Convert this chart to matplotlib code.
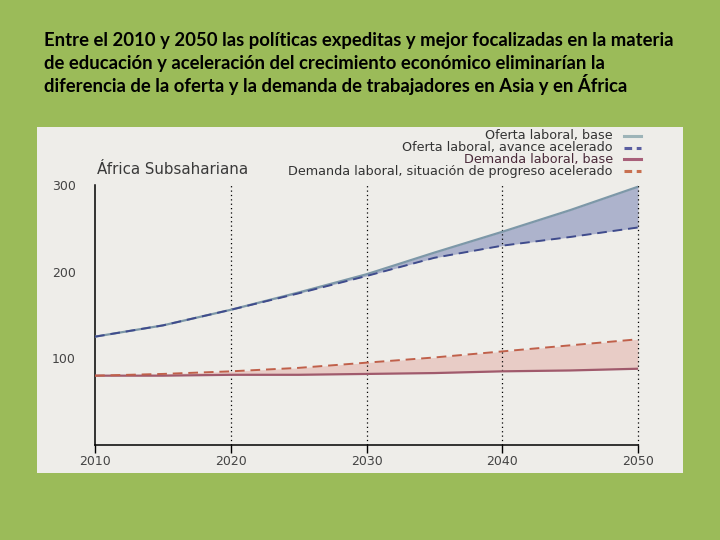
import numpy as np
import matplotlib.pyplot as plt
from matplotlib.patches import Rectangle
from matplotlib.lines import Line2D

# data (millions of workers)
years = [2010, 2015, 2020, 2025, 2030, 2035, 2040, 2045, 2050]
oferta_base = [125, 138, 156, 176, 197, 222, 246, 271, 298]
oferta_acel = [125, 138, 156, 175, 195, 216, 230, 240, 251]
demanda_base = [80, 80, 81, 81, 82, 83, 85, 86, 88]
demanda_acel = [80, 82, 85, 89, 95, 101, 108, 115, 122]

labels = ['Oferta laboral, base',
          'Oferta laboral, avance acelerado',
          'Demanda laboral, base',
          'Demanda laboral, situación de progreso acelerado']

title_lines = ['Entre el 2010 y 2050 las políticas expeditas y mejor focalizadas en la materia',
               'de educación y aceleración del crecimiento económico eliminarían la',
               'diferencia de la oferta y la demanda de trabajadores en Asia y en África']

W, H = 720, 540
fig = plt.figure(figsize=[7.2, 5.4], dpi=100, facecolor='#9bbb59')

# light panel behind the chart
fig.patches.append(Rectangle((37/W, 1-473/H), 646/W, 346/H,
                             transform=fig.transFigure, facecolor='#eeede9',
                             edgecolor='none', zorder=-1))

for i, line in enumerate(title_lines):
    fig.text(44/W, 1-(46 + 23*i)/H, line, fontsize=13.3, fontweight='bold',
             family='Lato', color='black', va='baseline', ha='left')

ax = fig.add_axes([95/W, 1-445/H, 543/W, 260/H])
ax.set_facecolor('none')

x = np.array(years)
ax.fill_between(x, oferta_acel, oferta_base, color='#adb3cc', lw=0, zorder=1)
ax.fill_between(x, demanda_base, demanda_acel, color='#e8ccc6', lw=0, zorder=1)

ax.plot(x, oferta_base, color='#7d98a8', lw=1.6, zorder=3)
ax.plot(x, oferta_acel, color='#3f4b8c', lw=1.4, ls=(0, (5, 3)), zorder=3)
ax.plot(x, demanda_base, color='#a05a6c', lw=1.6, zorder=3)
ax.plot(x, demanda_acel, color='#c0604a', lw=1.4, ls=(0, (5, 3)), zorder=3)

# dotted guides, not clipped so the one on the right edge shows in full
for yr in [2020, 2030, 2040, 2050]:
    ax.axvline(yr, color='black', ls=(0, (1, 2.5)), lw=0.9, zorder=2, clip_on=False)

ax.set_xlim(2010, 2050)
ax.set_ylim(0, 300)
ax.set_xticks([2010, 2020, 2030, 2040, 2050])
ax.set_yticks([100, 200, 300])
for s in ['top', 'right']:
    ax.spines[s].set_visible(False)
for s in ['left', 'bottom']:
    ax.spines[s].set_color('black')
    ax.spines[s].set_linewidth(1.1)
ax.tick_params(axis='x', direction='out', length=6, width=1, colors='black',
               labelcolor='#444444', labelsize=9, pad=1)
ax.tick_params(axis='y', length=0, labelcolor='#444444', labelsize=9, pad=14)
for t in ax.get_xticklabels() + ax.get_yticklabels():
    t.set_family('DejaVu Sans')

ax.text(2010.15, 318, 'África Subsahariana', fontsize=10.8, family='DejaVu Sans',
        color='#3a3a3a', va='center')

# legend drawn by hand: text right-aligned, sample line to its right
handle_styles = [dict(color='#9db4b8', ls='-'),
                 dict(color='#5a5ea0', ls=(0, (2.5, 1.5))),
                 dict(color='#a8607a', ls='-'),
                 dict(color='#c87050', ls=(0, (2.5, 1.5)))]
text_colors = ['#333333', '#333333', '#4a2a3a', '#333333']
for i, (lab, st) in enumerate(zip(labels, handle_styles)):
    yc = 1 - (136 + 11.7*i)/H
    fig.text(613/W, yc, lab, fontsize=9.2, family='DejaVu Sans', color=text_colors[i],
             ha='right', va='center')
    fig.add_artist(Line2D([624/W, 641/W], [yc, yc], transform=fig.transFigure,
                          lw=2.2, **st))

plt.savefig('out.png', dpi=100, facecolor=fig.get_facecolor())
